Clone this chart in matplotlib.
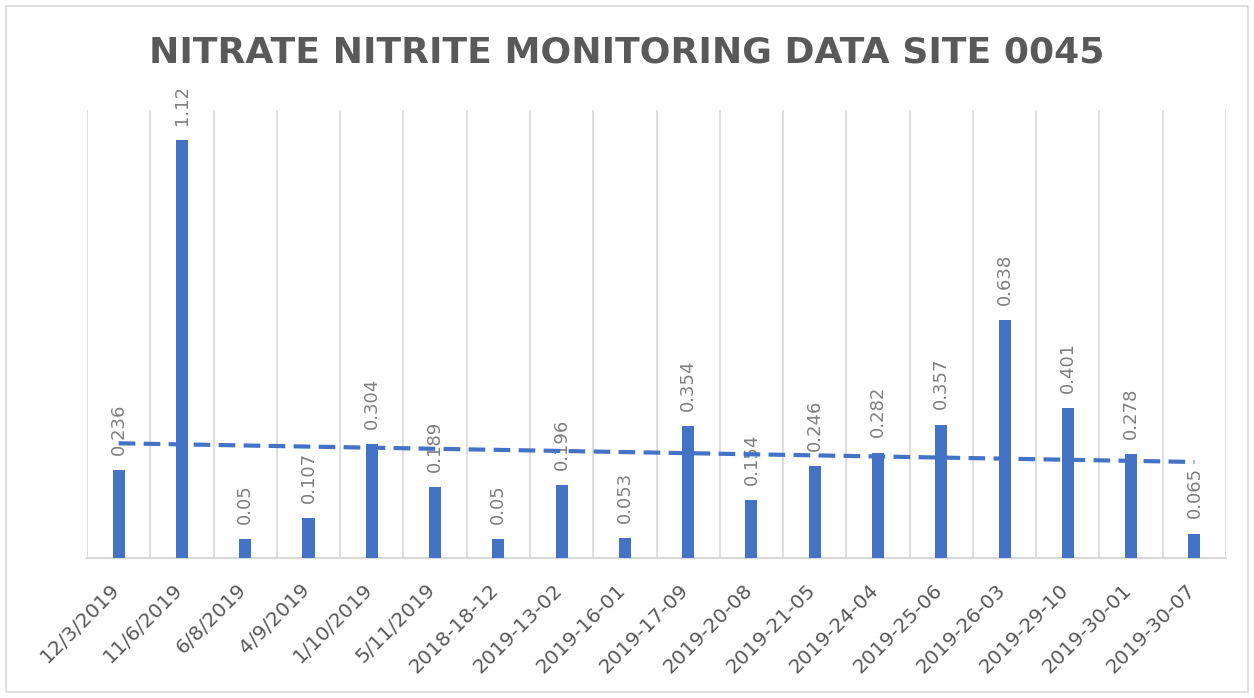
import numpy as np
import matplotlib.pyplot as plt
import matplotlib.transforms as mtrans
from matplotlib.patches import Rectangle

dates = ['12/3/2019', '11/6/2019', '6/8/2019', '4/9/2019', '1/10/2019', '5/11/2019',
         '2018-18-12', '2019-13-02', '2019-16-01', '2019-17-09', '2019-20-08', '2019-21-05',
         '2019-24-04', '2019-25-06', '2019-26-03', '2019-29-10', '2019-30-01', '2019-30-07']
values = [0.236, 1.12, 0.05, 0.107, 0.304, 0.189, 0.05, 0.196, 0.053, 0.354,
          0.154, 0.246, 0.282, 0.357, 0.638, 0.401, 0.278, 0.065]

blue = '#4472C4'
grid_col = '#D9D9D9'
text_col = '#595959'

fig = plt.figure(figsize=(12.54, 6.98), dpi=100)
fig.patches.append(Rectangle((0.005, 0.008), 0.99, 0.984, transform=fig.transFigure,
                             fill=False, edgecolor=grid_col, linewidth=1.2))
ax = fig.add_axes([0.0694, 0.2006, 0.9083, 0.6418])

x = np.arange(len(values))
ax.bar(x, values, width=0.19, color=blue, zorder=3)

# linear trendline
slope, intercept = np.polyfit(x + 1, values, 1)
ax.plot([x[0], x[-1]], [slope * 1 + intercept, slope * len(values) + intercept],
        color=blue, linestyle=(0, (4, 2)), linewidth=3, zorder=4)

for xi, v in zip(x, values):
    ax.annotate(f'{v:g}', (xi, v), xytext=(0, 11), textcoords='offset points',
                rotation=90, ha='center', va='bottom', color='#7F7F7F', fontsize=13)

ax.set_xlim(-0.5, len(values) - 0.5)
ax.set_ylim(0, 1.2)
ax.set_xticks(x)
ax.set_xticklabels(dates, rotation=45, ha='right', va='top', rotation_mode='anchor',
                   color=text_col, fontsize=14.5)
ax.set_xticks(np.arange(-0.5, len(values)), minor=True)
ax.tick_params(axis='x', which='both', length=0, pad=16)
ax.grid(axis='x', which='minor', color=grid_col, linewidth=1.2, zorder=0)
ax.set_yticks([])
for s in ['left', 'right', 'top']:
    ax.spines[s].set_visible(False)
ax.spines['bottom'].set_color(grid_col)
ax.spines['bottom'].set_linewidth(1.5)

# nudge the rotated date labels left so they end under the bar
shift = mtrans.ScaledTranslation(-0.09, 0, fig.dpi_scale_trans)
for lbl in ax.get_xticklabels():
    lbl.set_transform(lbl.get_transform() + shift)

fig.text(0.5, 0.9255, 'NITRATE NITRITE MONITORING DATA SITE 0045', ha='center', va='center',
         fontsize=26, fontweight='bold', color=text_col)

fig.savefig('out.png', dpi=100)
